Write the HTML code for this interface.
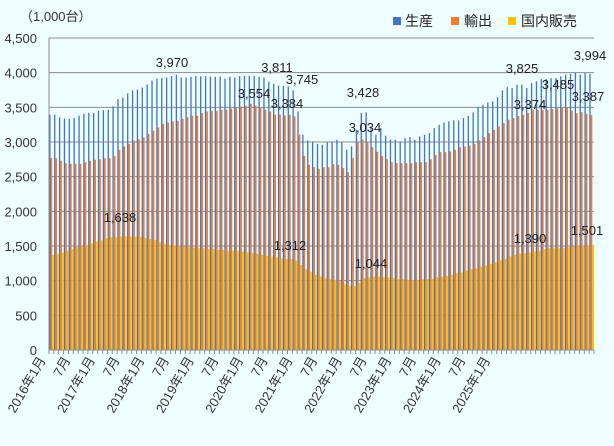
<!DOCTYPE html>
<html><head><meta charset="utf-8"><style>
html,body{margin:0;padding:0;background:#effefe;}
svg{display:block;font-family:"Liberation Sans","Noto Sans CJK JP",sans-serif;}
</style></head><body>
<svg id="chart" width="614" height="446" viewBox="0 0 614 446" xmlns="http://www.w3.org/2000/svg">
<rect x="0" y="0" width="614" height="446" fill="#effefe"/>
<text x="20" y="21" font-size="13" fill="#333">（1,000台）</text>
<g>
<rect x="393" y="17" width="8" height="8" fill="#4472C4"/>
<text x="405" y="26" font-size="14" fill="#222">生産</text>
<rect x="451" y="17" width="8" height="8" fill="#ED7D31"/>
<text x="464" y="26" font-size="14" fill="#222">輸出</text>
<rect x="508" y="17" width="8" height="8" fill="#FFC000"/>
<text x="521" y="26" font-size="14" fill="#222">国内販売</text>
</g>
<g id="grid"></g><g id="bars"></g><g id="axes"></g><g id="labels"></g>
</svg>
<script>
const yTicks=[0,500,1000,1500,2000,2500,3000,3500,4000,4500];
const xTickLabels=["2016年1月","7月","2017年1月","7月","2018年1月","7月","2019年1月","7月","2020年1月","7月","2021年1月","7月","2022年1月","7月","2023年1月","7月","2024年1月","7月","2025年1月"];
const production=[3393,3393,3355,3340,3335,3345,3378,3405,3420,3420,3450,3460,3465,3515,3620,3640,3700,3745,3755,3785,3830,3885,3915,3925,3930,3950,3970,3930,3930,3940,3950,3945,3950,3945,3940,3945,3915,3940,3930,3950,3955,3955,3955,3940,3930,3870,3840,3815,3811,3800,3745,3440,
3104,3022,3008,2974,2960,2994,3008,3032,2994,2888,2936,3176,3417,3428,3200,3104,3200,3090,3032,3032,3008,3056,3070,3032,3080,3104,3128,3200,3249,3282,3297,3311,3311,3345,3378,3427,3504,3537,3571,3586,3648,3744,3792,3778,3825,3826,3778,3850,3874,3908,3908,3922,3922,3946,3971,3985,3995,3971,3994,3985];
const exportsArr=[2767,2767,2728,2695,2686,2686,2686,2709,2728,2743,2752,2767,2767,2801,2888,2936,2974,3022,3041,3066,3118,3162,3210,3263,3282,3297,3306,3335,3359,3378,3378,3417,3441,3450,3450,3465,3465,3480,3489,3513,3523,3554,3523,3504,3465,3441,3393,3393,3384,3393,3369,3104,
2801,2671,2637,2613,2637,2637,2681,2671,2623,2565,2767,2994,3034,2998,2926,2859,2801,2752,2709,2695,2695,2695,2695,2709,2709,2709,2752,2815,2854,2854,2864,2888,2926,2936,2950,2974,3022,3070,3128,3176,3224,3273,3321,3345,3374,3393,3417,3465,3465,3465,3465,3475,3485,3504,3504,3455,3417,3432,3407,3387];
const domestic=[1372,1386,1405,1434,1453,1482,1492,1516,1540,1564,1578,1612,1626,1626,1638,1638,1638,1636,1626,1612,1602,1588,1554,1525,1516,1506,1502,1492,1482,1477,1468,1468,1458,1458,1444,1444,1434,1434,1430,1420,1410,1396,1386,1372,1357,1348,1333,1319,1312,1312,1290,1227,
1165,1131,1083,1059,1035,1020,1011,987,948,924,924,972,1035,1044,1059,1059,1049,1044,1035,1020,1020,1011,1011,1011,1020,1025,1025,1049,1059,1068,1083,1107,1117,1146,1165,1179,1203,1218,1242,1266,1300,1314,1348,1372,1390,1396,1405,1420,1434,1453,1468,1468,1468,1468,1482,1492,1502,1502,1511,1501];
const valueLabels=["3,970","3,811","3,745","3,554","3,384","1,638","1,312","3,428","3,034","1,044","3,825","3,374","3,485","1,390","3,994","3,387","1,501"];
const labelAnchors=[[172,67],[277,72],[302,84],[254,98],[287,108],[120,222],[290,250],[363,97],[365,132],[371,268],[522,73],[530,109],[558,89],[530,243],[590,60],[588,101],[587,235]];

const NS="http://www.w3.org/2000/svg";
const X0=49,X1=594,Y0=350,Y1=38,YMAX=4500;
const n=production.length;
const step=(X1-X0)/n;
function yS(v){return Y0-(v/YMAX)*(Y0-Y1);}
function xS(i){return X0+i*step;}
function mk(tag,attrs,parent){const e=document.createElementNS(NS,tag);for(const k in attrs)e.setAttribute(k,attrs[k]);parent.appendChild(e);return e;}
const grid=document.getElementById('grid'),bars=document.getElementById('bars'),axes=document.getElementById('axes'),labels=document.getElementById('labels');
yTicks.forEach(function(t){
  if(t>0){const l=mk('line',{x1:X0,x2:X1,y1:yS(t),y2:yS(t),stroke:'#8c8c8c','stroke-width':1},grid);
  
  }
  const tx=mk('text',{x:37,y:yS(t)+5,'font-size':13,'text-anchor':'end',fill:'#333'},axes);
  tx.textContent=t.toLocaleString('en-US');
  
  
});
const yl=mk('line',{x1:X0,x2:X0,y1:Y1,y2:Y0,stroke:'#8c8c8c','stroke-width':1},axes);


const series=[[production,'#4472C4',0,1.3],[exportsArr,'#ED7D31',1.3,1.7],[domestic,'#FFC000',3.0,1.7]];
series.forEach(function(s,si){
  s[0].forEach(function(v,i){
    const r=mk('rect',{x:xS(i)+0.2+s[2],y:yS(v),width:s[3],height:Y0-yS(v),fill:s[1]},bars);
    
    
  });
});
const xl=mk('line',{x1:X0,x2:X1,y1:Y0,y2:Y0,stroke:'#8c8c8c','stroke-width':1},axes);


for(let i=0;i<=n;i++){
  const tk=mk('line',{x1:xS(i),x2:xS(i),y1:Y0,y2:Y0+4,stroke:'#8c8c8c','stroke-width':1},axes);
  
  
}
xTickLabels.forEach(function(t,i){
  const x=46+i*24.7,y=360;
  const tx=mk('text',{x:x,y:y,'font-size':13,'text-anchor':'end',fill:'#333',transform:'rotate(-60 '+x+' '+y+')'},axes);
  tx.textContent=t;
  
  
});
valueLabels.forEach(function(t,i){
  const tx=mk('text',{x:labelAnchors[i][0],y:labelAnchors[i][1],'font-size':13,'text-anchor':'middle',fill:'#222'},labels);
  tx.textContent=t;
  
  
});
</script>
</body></html>
